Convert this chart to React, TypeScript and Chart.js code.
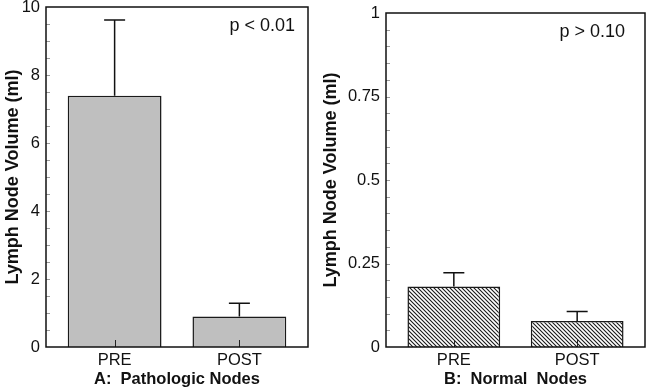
import React, { useEffect, useRef } from "react";
import { Chart, registerables } from "chart.js";

Chart.register(...registerables);

// ---- data ----
const categories = ["PRE", "POST"];
const pathologicMeans = [7.39, 0.9];
const pathologicErrors = [2.23, 0.39];
const normalMeans = [0.181, 0.078];
const normalErrors = [0.041, 0.028];
const pathologicTicks = [0, 2, 4, 6, 8, 10];
const normalTicks = [0, 0.25, 0.5, 0.75, 1];
const pathologicMinorStep = 0.5;
const normalMinorStep = 0.05;
const yTitle = "Lymph Node Volume (ml)";
const pathologicTitle = "A:  Pathologic Nodes";
const normalTitle = "B:  Normal  Nodes";
const pathologicP = "p < 0.01";
const normalP = "p > 0.10";

const FONT = "'Liberation Sans', Arial, Helvetica, sans-serif";

function makeHatch(): CanvasPattern | string {
  const c = document.createElement("canvas");
  c.width = 4;
  c.height = 4;
  const g = c.getContext("2d");
  if (!g) return "#888";
  g.fillStyle = "#ffffff";
  g.fillRect(0, 0, 4, 4);
  g.strokeStyle = "#1a1a1a";
  g.lineWidth = 1.1;
  g.beginPath();
  g.moveTo(0, 0);
  g.lineTo(4, 4);
  g.moveTo(-1, 3);
  g.lineTo(1, 5);
  g.moveTo(3, -1);
  g.lineTo(5, 1);
  g.stroke();
  const p = g.createPattern(c, "repeat");
  return p || "#888";
}

type PanelProps = {
  means: number[];
  errors: number[];
  ticks: number[];
  minorStep: number;
  xTitle: string;
  pText: string;
  hatch: boolean;
  padTop: number;
  padRight: number;
  yWidth: number;
  pRight: number;
  pTop: number;
};

function Panel(props: PanelProps) {
  const ref = useRef<HTMLCanvasElement | null>(null);
  useEffect(() => {
    const canvas = ref.current;
    if (!canvas) return;
    const {
      means, errors, ticks, minorStep, xTitle, pText, hatch,
      padTop, padRight, yWidth, pRight, pTop,
    } = props;
    const yMax = ticks[ticks.length - 1];
    const fill = hatch ? makeHatch() : "#bfbfbf";

    const decor = {
      id: "decor",
      afterDatasetsDraw(chart: any) {
        const ctx = chart.ctx;
        const area = chart.chartArea;
        const ys = chart.scales.y;
        const xs = chart.scales.x;
        const meta = chart.getDatasetMeta(0);
        ctx.save();
        // error bars
        ctx.strokeStyle = "#111";
        ctx.lineWidth = 1.5;
        meta.data.forEach((bar: any, i: number) => {
          const x = bar.x;
          const y0 = ys.getPixelForValue(means[i]);
          const y1 = ys.getPixelForValue(means[i] + errors[i]);
          ctx.beginPath();
          ctx.moveTo(x, y0);
          ctx.lineTo(x, y1);
          ctx.moveTo(x - 10.5, y1);
          ctx.lineTo(x + 10.5, y1);
          ctx.stroke();
        });
        // minor ticks inward on y axis
        ctx.strokeStyle = "#9a9a9a";
        ctx.lineWidth = 1;
        const n = Math.round(yMax / minorStep);
        for (let k = 1; k < n; k++) {
          const y = Math.round(ys.getPixelForValue(k * minorStep)) + 0.5;
          ctx.beginPath();
          ctx.moveTo(area.left, y);
          ctx.lineTo(area.left + 4, y);
          ctx.stroke();
        }
        // x ticks inward
        ctx.strokeStyle = "#222";
        categories.forEach((_, i) => {
          const x = Math.round(xs.getPixelForValue(i)) + 0.5;
          ctx.beginPath();
          ctx.moveTo(x, area.bottom);
          ctx.lineTo(x, area.bottom - 7);
          ctx.stroke();
        });
        // box
        ctx.strokeStyle = "#111";
        ctx.lineWidth = 1.5;
        ctx.strokeRect(area.left, area.top, area.right - area.left, area.bottom - area.top);
        // p value text
        ctx.fillStyle = "#111";
        ctx.font = `18px ${FONT}`;
        ctx.textAlign = "right";
        ctx.textBaseline = "middle";
        ctx.fillText(pText, area.right - pRight, area.top + pTop);
        ctx.restore();
      },
    };

    const chart = new Chart(canvas, {
      type: "bar",
      data: {
        datasets: [
          {
            data: means.map((v, i) => ({ x: i, y: v })),
            backgroundColor: fill as any,
            borderColor: "#1a1a1a",
            borderWidth: 1.5,
            barPercentage: 1,
            categoryPercentage: 0.752,
          },
        ],
      },
      options: {
        animation: false,
        responsive: true,
        maintainAspectRatio: false,
        layout: { padding: { top: padTop, right: padRight, bottom: 0, left: 0 } },
        plugins: {
          legend: { display: false },
          tooltip: { enabled: false },
        },
        scales: {
          x: {
            type: "linear",
            offset: false,
            min: -0.55,
            max: 1.55,
            grid: { display: false, drawTicks: false, offset: false },
            border: { display: false },
            afterBuildTicks: (scale: any) => {
              scale.ticks = categories.map((_, i) => ({ value: i }));
            },
            afterFit: (scale: any) => {
              scale.height = 45;
              scale.paddingLeft = 0;
              scale.paddingRight = 0;
            },
            ticks: {
              autoSkip: false,
              maxRotation: 0,
              padding: 4,
              color: "#111",
              font: { family: FONT, size: 16.5 },
              callback: (v: any) => categories[v] ?? "",
            },
            title: {
              display: true,
              text: xTitle,
              color: "#111",
              font: { family: FONT, size: 16.5, weight: "bold" },
              padding: { top: 0, bottom: 3 },
            },
          },
          y: {
            min: 0,
            max: yMax,
            grid: { display: false, drawTicks: false },
            border: { display: false },
            afterBuildTicks: (scale: any) => {
              scale.ticks = ticks.map((v) => ({ value: v }));
            },
            afterFit: (scale: any) => {
              scale.width = yWidth;
              scale.paddingTop = 0;
              scale.paddingBottom = 0;
            },
            ticks: {
              padding: 6,
              color: "#111",
              font: { family: FONT, size: 16.5 },
              callback: (v: any) => String(v),
            },
            title: {
              display: true,
              text: yTitle,
              color: "#111",
              font: { family: FONT, size: 18, weight: "bold" },
              padding: { top: 2, bottom: 0 },
            },
          },
        },
      } as any,
      plugins: [decor],
    });
    return () => chart.destroy();
  }, []);
  return <canvas ref={ref} />;
}

export default function App() {
  return (
    <div
      style={{
        position: "absolute",
        left: 0,
        top: 0,
        width: 650,
        height: 392,
        background: "#fff",
      }}
    >
      <div style={{ position: "absolute", left: 0, top: 0, width: 318, height: 392 }}>
        <Panel
          means={pathologicMeans}
          errors={pathologicErrors}
          ticks={pathologicTicks}
          minorStep={pathologicMinorStep}
          xTitle={pathologicTitle}
          pText={pathologicP}
          hatch={false}
          padTop={7}
          padRight={10}
          yWidth={46}
          pRight={13}
          pTop={19}
        />
      </div>
      <div style={{ position: "absolute", left: 318, top: 0, width: 332, height: 392 }}>
        <Panel
          means={normalMeans}
          errors={normalErrors}
          ticks={normalTicks}
          minorStep={normalMinorStep}
          xTitle={normalTitle}
          pText={normalP}
          hatch={true}
          padTop={13}
          padRight={5}
          yWidth={68}
          pRight={20}
          pTop={19}
        />
      </div>
    </div>
  );
}
